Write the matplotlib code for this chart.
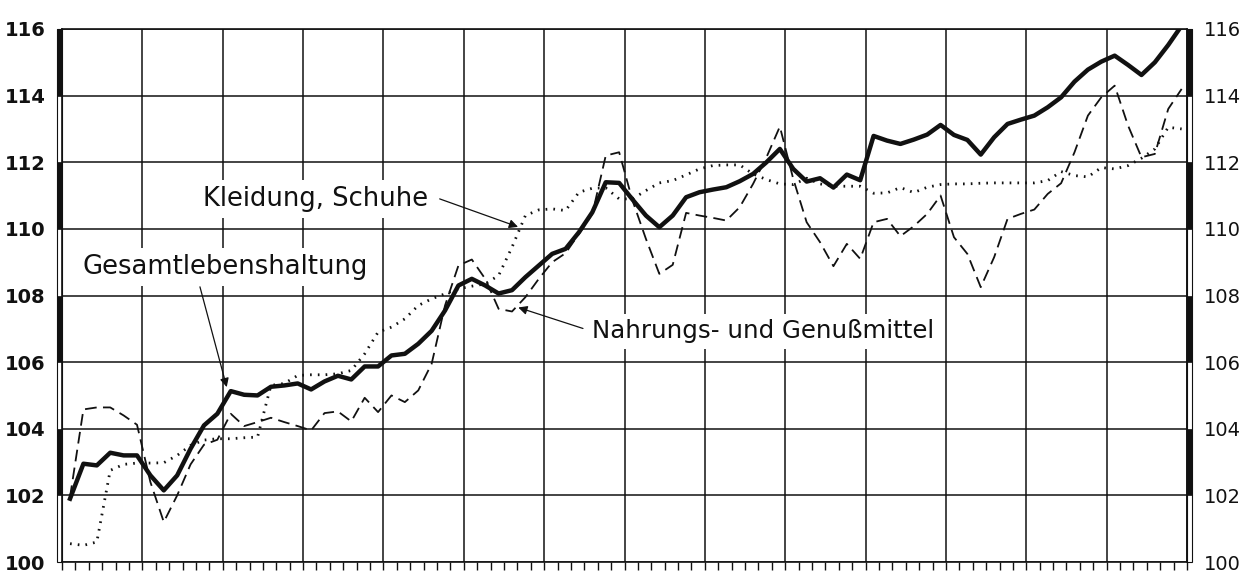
import numpy as np
import matplotlib.pyplot as plt
from matplotlib.patches import Rectangle
from matplotlib.transforms import blended_transform_factory

# Monatswerte (84 Monate)
gesamt = [101.9, 102.95, 102.9, 103.28, 103.2, 103.2, 102.6, 102.15, 102.6, 103.4,
          104.1, 104.45, 105.13, 105.02, 105.0, 105.26, 105.3, 105.36, 105.18, 105.42,
          105.59, 105.48, 105.87, 105.87, 106.2, 106.25, 106.55, 106.94, 107.55, 108.3,
          108.5, 108.3, 108.06, 108.16, 108.55, 108.9, 109.25, 109.4, 109.9, 110.5,
          111.4, 111.38, 110.88, 110.4, 110.05, 110.4, 110.95, 111.1, 111.18, 111.25,
          111.43, 111.65, 112.0, 112.4, 111.8, 111.42, 111.52, 111.24, 111.63, 111.46,
          112.79, 112.65, 112.55, 112.68, 112.83, 113.12, 112.82, 112.67, 112.23, 112.75,
          113.15, 113.28, 113.4, 113.65, 113.95, 114.42, 114.78, 115.02, 115.2, 114.92,
          114.62, 115.0, 115.52, 116.1]

nahrung = [101.95, 104.58, 104.64, 104.64, 104.4, 104.12, 102.4, 101.2, 102.0, 102.93,
           103.52, 103.67, 104.45, 104.08, 104.2, 104.33, 104.2, 104.08, 103.95, 104.47,
           104.52, 104.22, 104.93, 104.5, 105.0, 104.8, 105.15, 105.95, 107.7, 108.9,
           109.08, 108.5, 107.6, 107.52, 107.95, 108.5, 109.0, 109.27, 109.85, 110.45,
           112.2, 112.3, 110.85, 109.7, 108.65, 108.92, 110.48, 110.4, 110.33, 110.25,
           110.65, 111.35, 112.15, 113.07, 111.5, 110.2, 109.6, 108.88, 109.55, 109.1,
           110.2, 110.3, 109.78, 110.08, 110.45, 111.0, 109.75, 109.25, 108.25, 109.15,
           110.3, 110.45, 110.58, 111.05, 111.37, 112.3, 113.4, 113.95, 114.3, 113.1,
           112.15, 112.25, 113.6, 114.2]

kleidung = [100.55, 100.5, 100.6, 102.75, 102.93, 102.97, 102.97, 102.98, 103.2, 103.5,
            103.66, 103.7, 103.7, 103.73, 103.75, 105.3, 105.36, 105.6, 105.62, 105.62,
            105.65, 105.75, 106.25, 106.9, 107.05, 107.3, 107.7, 107.9, 108.05, 108.2,
            108.28, 108.35, 108.6, 109.45, 110.4, 110.57, 110.6, 110.55, 111.1, 111.22,
            111.23, 110.9, 110.9, 111.15, 111.38, 111.45, 111.62, 111.8, 111.9, 111.92,
            111.92, 111.65, 111.48, 111.35, 111.33, 111.52, 111.35, 111.28, 111.28, 111.28,
            111.07, 111.08, 111.24, 111.09, 111.25, 111.33, 111.35, 111.35, 111.37, 111.38,
            111.38, 111.38, 111.38, 111.45, 111.72, 111.6, 111.56, 111.84, 111.8, 111.9,
            112.12, 112.4, 113.05, 113.0]

y_ticks = [100, 102, 104, 106, 108, 110, 112, 114, 116]

ink = "#111111"

fig = plt.figure(figsize=(12.53, 5.74), dpi=100)
ax = fig.add_axes([62 / 1253, 12 / 574, 1125 / 1253, 533 / 574])

x = np.arange(len(gesamt)) + 0.6  # Monatsmitte

ax.plot(x, kleidung, color=ink, lw=2.0, dashes=(0.6, 2.2), zorder=3)
ax.plot(x, nahrung, color=ink, lw=1.3, dashes=(6.5, 3.5), zorder=3)
ax.plot(x, gesamt, color=ink, lw=3.2, solid_joinstyle="round", zorder=4)

ax.set_xlim(0, 84)
ax.set_ylim(100, 116)
ax.set_xticks(np.arange(0, 85, 6))
ax.set_xticks(np.arange(0, 85, 1), minor=True)
ax.set_yticks(y_ticks)
ax.set_axisbelow(True)
ax.grid(True, which="major", color=ink, lw=1.1)

ax.tick_params(axis="x", which="both", direction="out", length=6, width=1,
               color=ink, labelbottom=False)
ax.tick_params(axis="y", which="both", length=0, left=True, right=True,
               labelleft=True, labelright=True, labelsize=14, pad=12, labelcolor=ink)
for t in ax.yaxis.get_major_ticks():
    t.label1.set_fontweight("bold")

for s in ax.spines.values():
    s.set_color(ink)
    s.set_linewidth(1.2)

# Skalenbalken links und rechts
tr = blended_transform_factory(ax.transAxes, ax.transData)
w = 5 / 1125
for x0 in (-w, 1.0):
    ax.add_patch(Rectangle((x0, 100), w, 16, transform=tr, fill=False,
                           edgecolor=ink, lw=0.8, clip_on=False))
    for y0 in (102, 106, 110, 114):
        ax.add_patch(Rectangle((x0, y0), w, 2, transform=tr, facecolor=ink,
                               edgecolor=ink, lw=0.5, clip_on=False))

# Beschriftungen
box = dict(facecolor="white", edgecolor="none", pad=4)
arrow = dict(arrowstyle="-|>", color=ink, lw=0.9, mutation_scale=13,
             shrinkA=0, shrinkB=0)

ax.text(10.5, 110.69, "Kleidung, Schuhe", fontsize=18.6, ha="left", va="baseline",
        color=ink, bbox=box, zorder=5)
ax.annotate("", xy=(34.05, 110.06), xytext=(28.2, 110.9), arrowprops=arrow, zorder=5)

ax.text(1.5, 108.65, "Gesamtlebenshaltung", fontsize=18.6, ha="left", va="baseline",
        color=ink, bbox=box, zorder=5)
ax.annotate("", xy=(12.3, 105.25), xytext=(10.3, 108.26), arrowprops=arrow, zorder=5)

ax.text(39.6, 106.71, "Nahrungs- und Genußmittel", fontsize=17.6, ha="left",
        va="baseline", color=ink, bbox=box, zorder=5)
ax.annotate("", xy=(34.07, 107.64), xytext=(38.9, 107.01), arrowprops=arrow, zorder=5)

fig.savefig("out.png", dpi=100)
